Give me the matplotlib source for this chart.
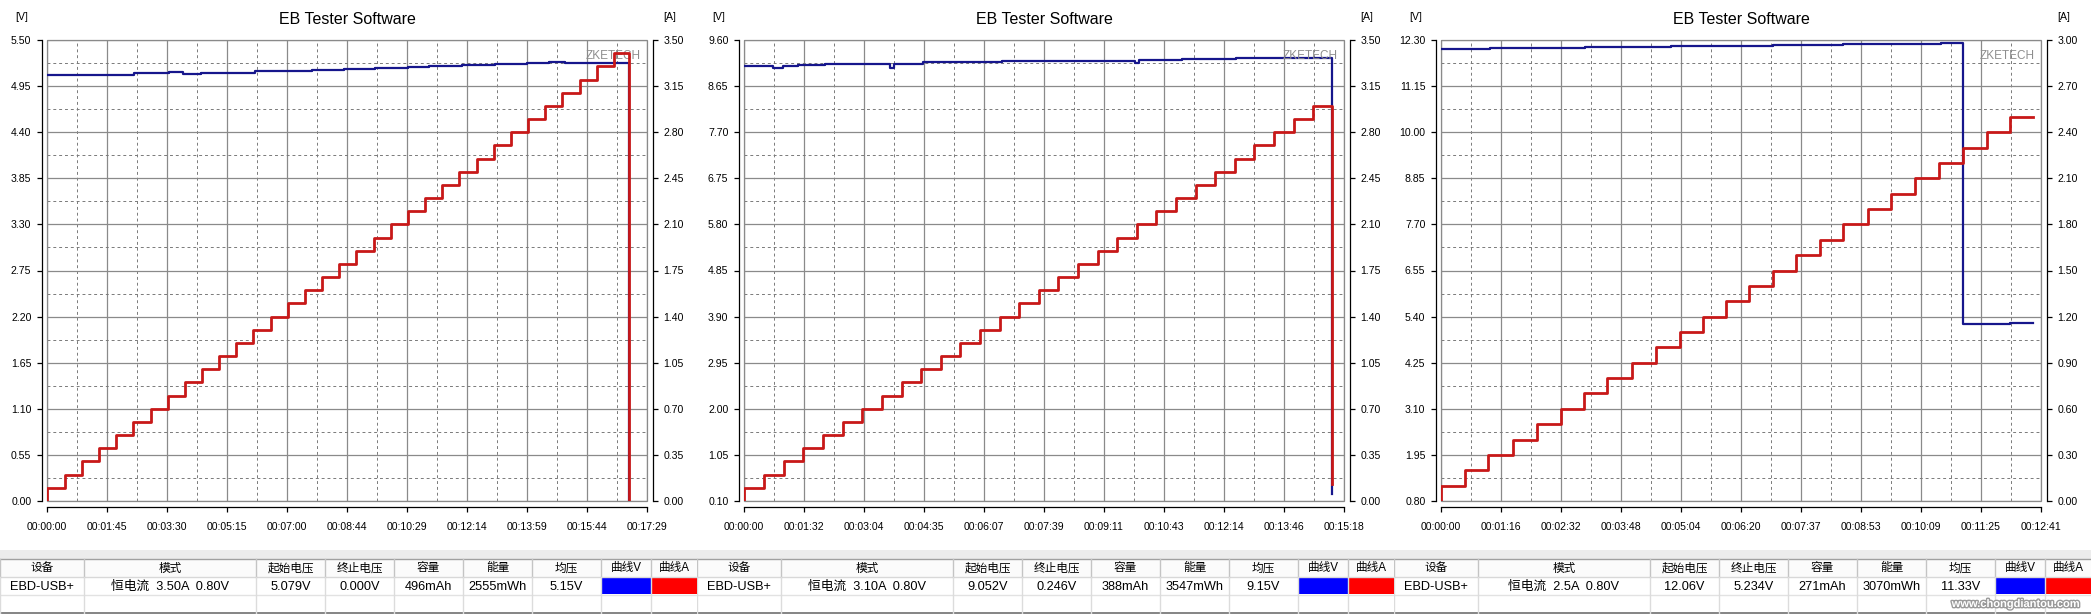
import numpy as np
import matplotlib.pyplot as plt
from matplotlib.patches import Rectangle
import matplotlib.patheffects as pe

plt.rcParams['font.family'] = ['Liberation Sans', 'Noto Sans CJK SC', 'DejaVu Sans']

# ---------------- data ----------------
headers = ['设备', '模式', '起始电压', '终止电压', '容量', '能量', '均压', '曲线V', '曲线A']

# panel 1: 3.50A step test
p1_tmax = 1049
p1_xlabels = ['00:00:00', '00:01:45', '00:03:30', '00:05:15', '00:07:00', '00:08:44',
              '00:10:29', '00:12:14', '00:13:59', '00:15:44', '00:17:29']
p1_vlim = (0.0, 5.50)
p1_alim = (0.0, 3.50)
p1_volt_t = [0, 152, 214, 238, 269, 363, 425, 464, 519, 573, 632, 667, 726, 784, 839, 878, 905, 1018]
p1_volt = [5.087, 5.102, 5.114, 5.098, 5.110, 5.126, 5.134, 5.142, 5.154, 5.166, 5.178, 5.186,
           5.198, 5.210, 5.230, 5.242, 5.226, 0.000]
p1_amp_t = [0, 0, 31, 61, 91, 121, 151, 181, 211, 241, 271, 301, 331, 361, 391, 421, 451, 481,
            511, 541, 571, 601, 631, 661, 691, 721, 751, 781, 811, 841, 871, 901, 931, 961, 991, 1018]
p1_amp = [0.00, 0.10, 0.20, 0.30, 0.40, 0.50, 0.60, 0.70, 0.80, 0.90, 1.00, 1.10, 1.20, 1.30,
          1.40, 1.50, 1.60, 1.70, 1.80, 1.90, 2.00, 2.10, 2.20, 2.30, 2.40, 2.50, 2.60, 2.70,
          2.80, 2.90, 3.00, 3.10, 3.20, 3.30, 3.40, 0.00]
p1_row = ['EBD-USB+', '恒电流  3.50A  0.80V', '5.079V', '0.000V', '496mAh', '2555mWh', '5.15V']

# panel 2: 3.10A step test
p2_tmax = 918
p2_xlabels = ['00:00:00', '00:01:32', '00:03:04', '00:04:35', '00:06:07', '00:07:39',
              '00:09:11', '00:10:43', '00:12:14', '00:13:46', '00:15:18']
p2_vlim = (0.10, 9.60)
p2_alim = (0.0, 3.50)
p2_volt_t = [0, 45, 59, 83, 103, 124, 192, 223, 230, 274, 394, 482, 598, 605, 670, 752, 834, 900]
p2_volt = [9.064, 9.030, 9.070, 9.092, 9.075, 9.099, 9.106, 9.020, 9.112, 9.140, 9.160, 9.174,
           9.119, 9.195, 9.215, 9.236, 9.222, 0.246]
p2_amp_t = [0, 0, 31, 61, 91, 121, 151, 181, 211, 241, 271, 301, 331, 361, 391, 421, 451, 481,
            511, 541, 571, 601, 631, 661, 691, 721, 751, 781, 811, 841, 871, 900]
p2_amp = [0.00, 0.10, 0.20, 0.30, 0.40, 0.50, 0.60, 0.70, 0.80, 0.90, 1.00, 1.10, 1.20, 1.30,
          1.40, 1.50, 1.60, 1.70, 1.80, 1.90, 2.00, 2.10, 2.20, 2.30, 2.40, 2.50, 2.60, 2.70,
          2.80, 2.90, 3.00, 0.13]
p2_row = ['EBD-USB+', '恒电流  3.10A  0.80V', '9.052V', '0.246V', '388mAh', '3547mWh', '9.15V']

# panel 3: 2.5A step test
p3_tmax = 761
p3_xlabels = ['00:00:00', '00:01:16', '00:02:32', '00:03:48', '00:05:04', '00:06:20',
              '00:07:37', '00:08:53', '00:10:09', '00:11:25', '00:12:41']
p3_vlim = (0.80, 12.30)
p3_alim = (0.0, 3.00)
p3_volt_t = [0, 62, 183, 292, 421, 510, 634, 662, 722, 751]
p3_volt = [12.068, 12.100, 12.125, 12.150, 12.175, 12.200, 12.225, 5.215, 5.248, 5.248]
p3_amp_t = [0, 0, 30, 60, 91, 122, 152, 181, 211, 242, 273, 303, 332, 361, 391, 421, 450, 481,
            510, 541, 571, 601, 632, 662, 692, 722, 751]
p3_amp = [0.00, 0.10, 0.20, 0.30, 0.40, 0.50, 0.60, 0.70, 0.80, 0.90, 1.00, 1.10, 1.20, 1.30,
          1.40, 1.50, 1.60, 1.70, 1.80, 1.90, 2.00, 2.10, 2.20, 2.30, 2.40, 2.50, 2.50]
p3_row = ['EBD-USB+', '恒电流  2.5A  0.80V', '12.06V', '5.234V', '271mAh', '3070mWh', '11.33V']

# ---------------- layout (pixels) ----------------
W, H = 2091, 614
PW = 697
col_edges = [0, 84, 256, 325, 394, 463, 532, 601, 651, 697]

fig = plt.figure(figsize=(W / 100, H / 100), dpi=100)


def draw_panel(i, tmax, xlabels, vlim, alim, volt_t, volt, amp_t, amp):
    ox = i * PW
    ax = fig.add_axes([(ox + 47) / W, (H - 501) / H, 600 / W, 461 / H])
    ax2 = ax.twinx()
    ax.set_xlim(0, tmax)
    ax.set_ylim(*vlim)
    ax2.set_ylim(*alim)

    xt = np.linspace(0, tmax, 11)
    ax.set_xticks(xt)
    ax.set_xticklabels(xlabels)
    ax.set_xticks((xt[:-1] + xt[1:]) / 2, minor=True)
    vt = np.linspace(vlim[0], vlim[1], 11)
    ax.set_yticks(vt)
    ax.set_yticklabels([f'{v:.2f}' for v in vt])
    ax.set_yticks((vt[:-1] + vt[1:]) / 2, minor=True)
    at = np.linspace(alim[0], alim[1], 11)
    ax2.set_yticks(at)
    ax2.set_yticklabels([f'{a:.2f}' for a in at])

    ax.grid(which='major', color='#8a8a8a', lw=0.9, ls='-')
    ax.grid(which='minor', color='#7a7a7a', lw=0.7, ls=(0, (3, 3)))
    ax.tick_params(which='minor', length=0)
    ax2.tick_params(which='minor', length=0)

    for s in ['top', 'right']:
        ax.spines[s].set_visible(False)
    for s in ['top', 'left', 'bottom']:
        ax2.spines[s].set_visible(False)
    ax.spines['left'].set_position(('outward', 3.6))
    ax.spines['bottom'].set_position(('outward', 4.3))
    ax2.spines['right'].set_position(('outward', 4.3))
    for sp in [ax.spines['left'], ax.spines['bottom'], ax2.spines['right']]:
        sp.set_linewidth(0.9)

    ax.tick_params(axis='x', which='major', direction='out', length=3.6, width=0.9,
                   labelsize=7.6, pad=7)
    ax.tick_params(axis='y', which='major', direction='out', length=3.6, width=0.9,
                   labelsize=7.6, pad=4)
    ax2.tick_params(axis='y', which='major', direction='out', length=3.6, width=0.9,
                    labelsize=7.6, pad=4)

    ax.add_patch(Rectangle((0, 0), 1, 1, transform=ax.transAxes, fill=False,
                           ec='#8a8a8a', lw=0.9, clip_on=False, zorder=1.6))

    ax.plot(volt_t, volt, drawstyle='steps-post', color='#16168c', lw=1.6, zorder=3)
    ax2.plot(amp_t, amp, drawstyle='steps-post', color='#c81818', lw=2.0, zorder=3)

    ax.text(0.99, 0.965, 'ZKETECH', transform=ax.transAxes, ha='right', va='center',
            fontsize=8.5, color='#8e8e8e')

    fig.text((ox + 347) / W, 1 - 19 / H, 'EB Tester Software', ha='center', va='center',
             fontsize=11.5)
    fig.text((ox + 22) / W, 1 - 17 / H, '[V]', ha='center', va='center', fontsize=7.6)
    fig.text((ox + 670) / W, 1 - 17 / H, '[A]', ha='center', va='center', fontsize=7.6)


def draw_table(i, row):
    ox = i * PW
    tx = fig.add_axes([ox / W, 0, PW / W, 64 / H])
    tx.set_xlim(0, PW)
    tx.set_ylim(64, 0)
    tx.axis('off')
    tx.add_patch(Rectangle((0, 0), PW, 9, fc='#ececec', ec='none'))
    tx.add_patch(Rectangle((0, 9), PW, 18, fc='#fbfbfb', ec='none'))
    tx.add_patch(Rectangle((0, 27), PW, 37, fc='white', ec='none'))
    tx.add_patch(Rectangle((col_edges[7] + 1, 28), col_edges[8] - col_edges[7] - 1, 16,
                           fc='#0000ff', ec='none'))
    tx.add_patch(Rectangle((col_edges[8] + 1, 28), col_edges[9] - col_edges[8] - 1, 16,
                           fc='#ff0000', ec='none'))
    tx.plot([0, PW], [9, 9], color='#a0a0a0', lw=1)
    tx.plot([0, PW], [27, 27], color='#d8d8d8', lw=1)
    tx.plot([0, PW], [45, 45], color='#e2e2e2', lw=1)
    tx.plot([0, PW], [63, 63], color='#707070', lw=1.2)
    for x in col_edges[:-1]:
        tx.plot([x, x], [9, 27], color='#c4c4c4', lw=1)
        tx.plot([x, x], [27, 63], color='#dcdcdc', lw=1)
    for j, h in enumerate(headers):
        cx = (col_edges[j] + col_edges[j + 1]) / 2
        tx.text(cx, 18.5, h, ha='center', va='center', fontsize=8.4)
    for j, v in enumerate(row):
        cx = (col_edges[j] + col_edges[j + 1]) / 2
        tx.text(cx, 36.5, v, ha='center', va='center', fontsize=9.2)
    return tx


draw_panel(0, p1_tmax, p1_xlabels, p1_vlim, p1_alim, p1_volt_t, p1_volt, p1_amp_t, p1_amp)
draw_panel(1, p2_tmax, p2_xlabels, p2_vlim, p2_alim, p2_volt_t, p2_volt, p2_amp_t, p2_amp)
draw_panel(2, p3_tmax, p3_xlabels, p3_vlim, p3_alim, p3_volt_t, p3_volt, p3_amp_t, p3_amp)

draw_table(0, p1_row)
draw_table(1, p2_row)
t3 = draw_table(2, p3_row)

# site watermark in the empty last row of the third table
t3.text(622, 54, 'www.chongdiantou.com', ha='center', va='center', fontsize=8,
        fontweight='bold', color='white',
        path_effects=[pe.withStroke(linewidth=2, foreground='#9a9a9a')])

fig.savefig('out.png', dpi=100)
